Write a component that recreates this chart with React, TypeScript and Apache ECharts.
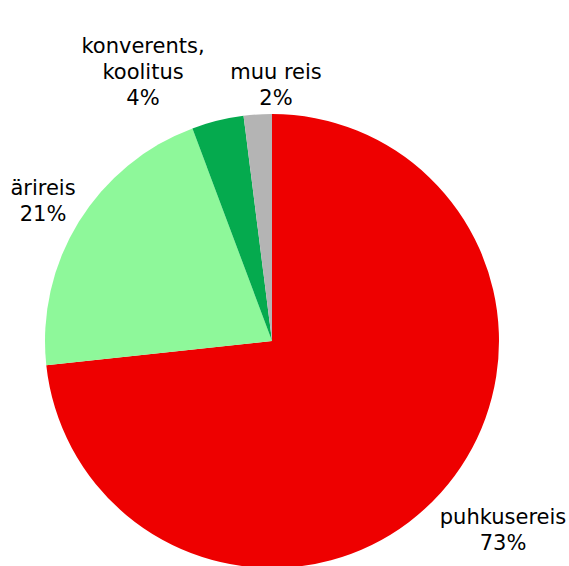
import React, { useEffect, useRef } from "react";
import * as echarts from "echarts";

const categories = ["puhkusereis", "ärireis", "konverents,\nkoolitus", "muu reis"];
const values = [73.3, 21.0, 3.7, 2.0];
const colors = ["#EE0000", "#8EF89A", "#05AA4E", "#B4B4B4"];

// label anchor points (layout, not data)
const labelAnchors: [number, number][] = [
  [503, 530],
  [43, 201],
  [143, 72],
  [276, 85],
];

export default function App() {
  const ref = useRef<HTMLDivElement>(null);
  useEffect(() => {
    document.body.style.margin = "0";
    if (!ref.current) return;
    const chart = echarts.init(ref.current, null, { renderer: "svg" });
    chart.setOption({
      animation: false,
      backgroundColor: "#ffffff",
      series: [
        {
          type: "pie",
          center: [272, 341],
          radius: 227,
          startAngle: 90,
          clockwise: true,
          avoidLabelOverlap: false,
          data: categories.map((c, i) => ({
            name: c,
            value: values[i],
            itemStyle: { color: colors[i] },
          })),
          label: {
            show: true,
            position: "outside",
            formatter: (p: any) => `${p.name}\n${Math.round(p.value)}%`,
            fontFamily: "DejaVu Sans",
            fontSize: 21,
            lineHeight: 26,
            color: "#000000",
            align: "center",
          },
          labelLine: { show: false },
          labelLayout: (params: any) => {
            const a = labelAnchors[params.dataIndex];
            return { x: a[0], y: a[1], align: "center", verticalAlign: "middle" };
          },
          emphasis: { disabled: true },
        },
      ],
    });
    return () => chart.dispose();
  }, []);
  return <div ref={ref} style={{ width: 569, height: 566 }} />;
}
